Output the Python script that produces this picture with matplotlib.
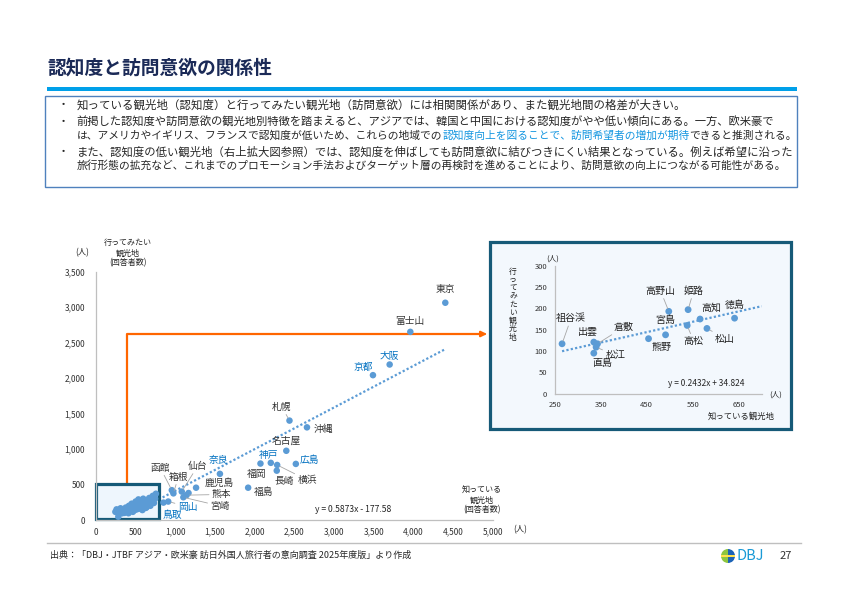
import matplotlib
matplotlib.use("Agg")
import matplotlib.pyplot as plt
from matplotlib.patches import Rectangle, FancyArrowPatch, Wedge
from matplotlib.path import Path
from matplotlib.ticker import FuncFormatter

plt.rcParams['font.family'] = ['Noto Sans CJK JP', 'DejaVu Sans']

# ---- data ----
title = "認知度と訪問意欲の関係性"

line1 = "知っている観光地（認知度）と行ってみたい観光地（訪問意欲）には相関関係があり、また観光地間の格差が大きい。"
line2 = "前掲した認知度や訪問意欲の観光地別特徴を踏まえると、アジアでは、韓国と中国における認知度がやや低い傾向にある。一方、欧米豪で"
line3a = "は、アメリカやイギリス、フランスで認知度が低いため、これらの地域での"
line3b = "認知度向上を図ることで、訪問希望者の増加が期待"
line3c = "できると推測される。"
line4 = "また、認知度の低い観光地（右上拡大図参照）では、認知度を伸ばしても訪問意欲に結びつきにくい結果となっている。例えば希望に沿った"
line5 = "旅行形態の拡充など、これまでのプロモーション手法およびターゲット層の再検討を進めることにより、訪問意欲の向上につながる可能性がある。"
source = "出典：「DBJ・JTBF アジア・欧米豪 訪日外国人旅行者の意向調査 2025年度版」より作成"

# labelled destinations on the main chart (known / want to visit, respondents)
main_names = ["東京", "富士山", "大阪", "京都", "札幌", "沖縄", "名古屋", "広島", "神戸", "福岡", "横浜",
              "長崎", "福島", "奈良", "鹿児島", "仙台", "箱根", "函館", "熊本", "宮崎", "岡山", "鳥取"]
main_known = [4400, 3960, 3700, 3490, 2440, 2660, 2400, 2520, 2205, 2075, 2285,
              2280, 1920, 1565, 1265, 1085, 980, 960, 1145, 1105, 915, 855]
main_want = [3060, 2650, 2190, 2040, 1400, 1305, 975, 790, 805, 795, 775,
             695, 455, 650, 455, 400, 375, 420, 350, 320, 260, 245]
main_blue = ["大阪", "京都", "広島", "神戸", "奈良", "岡山", "鳥取"]

# unlabelled low-awareness cluster
other_known = [250, 265, 280, 300, 315, 345, 365, 380, 400, 415, 420, 440, 455, 470, 490, 505, 520, 535, 540,
               560, 575, 590, 600, 615, 630, 645, 660, 675, 690, 705, 720, 735, 750, 760, 287, 1170,
               330, 430, 480, 550, 620, 700, 740]
other_want = [115, 150, 100, 135, 165, 145, 100, 175, 130, 95, 200, 160, 230, 115, 190, 260, 150, 220, 290,
              175, 250, 140, 300, 210, 170, 275, 230, 310, 200, 270, 340, 240, 300, 370, 46, 380,
              120, 125, 150, 200, 250, 240, 330]

# zoomed panel
inset_names = ["祖谷渓", "出雲", "倉敷", "松江", "直島", "熊野", "宮島", "高野山", "姫路", "高松", "高知", "松山", "徳島"]
inset_known = [266, 335, 343, 340, 335, 454, 491, 498, 540, 538, 566, 581, 641]
inset_want = [117, 121, 117, 109, 95, 129, 138, 193, 197, 160, 175, 153, 177]

main_fit = (0.5873, -177.58)
inset_fit = (0.2432, 34.824)
main_eq = "y = 0.5873x - 177.58"
inset_eq = "y = 0.2432x + 34.824"

# label offsets in points: (dx, dy, leader line)
main_offsets = {
    "東京": (0, 9.6, False), "富士山": (0, 7.9, False), "大阪": (0, 6, False), "京都": (-7, 6, False),
    "札幌": (-5.5, 10, True), "沖縄": (12, -1.4, False), "名古屋": (0, 7, False), "広島": (10, 2.9, False),
    "神戸": (-1.7, 5.5, False), "福岡": (-3.1, -7.8, False), "横浜": (21.6, -10.8, True), "長崎": (5.3, -7.6, False),
    "福島": (11, -2.9, False), "奈良": (-1.2, 10, False), "鹿児島": (17, 3.6, False), "仙台": (11.5, 18.5, True),
    "箱根": (3.6, 12, True), "函館": (-8.4, 16.3, True), "熊本": (25.2, 0.5, True), "宮崎": (26.4, -6.3, True),
    "岡山": (13.8, -3.6, True), "鳥取": (6.5, -8.6, False),
}
inset_offsets = {
    "祖谷渓": (6.5, 18.4, True), "出雲": (-4.1, 7.4, False), "倉敷": (19.1, 12.1, True), "松江": (13.8, -5.7, True),
    "直島": (6.5, -6.8, False), "熊野": (9.4, -6.3, False), "宮島": (0, 10.8, False), "高野山": (-5.9, 14.8, True),
    "姫路": (4, 13.6, True), "高知": (8.1, 8.3, False), "徳島": (0, 9.2, False), "高松": (4.7, -11.5, True),
    "松山": (13, -7.3, True),
}

DOT = '#5b9bd5'
GRID_GRAY = '#bfbfbf'
TXT = '#262626'
LBL = '#333333'
BLUE_LBL = '#0070c0'
TEAL = '#165a78'
ORANGE = '#ff6600'

W, H = 842, 596
fig = plt.figure(figsize=(W / 100, H / 100), dpi=100)

# page-level canvas in pixel units
bg = fig.add_axes([0, 0, 1, 1], zorder=0)
bg.set_xlim(0, W)
bg.set_ylim(H, 0)
bg.axis('off')

bg.text(47, 68, title, fontsize=13.5, fontweight='bold', color='#1b2a57', va='center', ha='left')
bg.add_patch(Rectangle((47, 86.7), 750, 4, facecolor='#00a0e9', edgecolor='none'))
bg.add_patch(Rectangle((45, 96), 752, 90.7, facecolor='none', edgecolor='#4f81bd', lw=1))

x_text = 76.7
rows = [
    (105.0, True, [(line1, TXT)], 685),
    (121.7, True, [(line2, TXT)], 778),
    (135.7, False, [(line3a, TXT), (line3b, '#1496e0'), (line3c, TXT)], 797),
    (151.7, True, [(line4, TXT)], 791),
    (166.0, False, [(line5, TXT)], 783),
]
for y, bullet, segs, x_end in rows:
    n = sum(len(s) for s, _ in segs)
    size = (x_end - x_text) / n * 0.72
    if bullet:
        bg.text(63, y, "・", fontsize=8, color=TXT, va='center', ha='center')
    prev = None
    for s, col in segs:
        if prev is None:
            prev = bg.text(x_text, y, s, fontsize=size, color=col, va='center', ha='left')
        else:
            prev = bg.annotate(s, xy=(1, 0.5), xycoords=prev, fontsize=size, color=col,
                               va='center', ha='left')

# footer
bg.plot([47, 801], [543.3, 543.3], color=GRID_GRAY, lw=1)
bg.text(50, 555, source, fontsize=6.5, color=TXT, va='center', ha='left')
bg.add_patch(Wedge((728, 556), 7, 90, 270, facecolor='#8dc63f', edgecolor='none'))
bg.add_patch(Wedge((728, 556), 7, -90, 90, facecolor='#1c63b7', edgecolor='none'))
bg.add_patch(Rectangle((721, 554.8), 14, 2.2, facecolor='#ffe14d', edgecolor='none'))
bg.text(737, 556, "DBJ", fontsize=10.5, color='#1a9ad6', va='center', ha='left')
bg.text(786, 556, "27", fontsize=8, color=LBL, va='center', ha='center')

# zoom panel frame and orange connector
bg.add_patch(Rectangle((489.5, 241.5), 301.5, 187.5, facecolor='#f3f8fd', edgecolor=TEAL, lw=2.3))
conn = Path([(126.7, 483), (126.7, 334), (487, 334)], [Path.MOVETO, Path.LINETO, Path.LINETO])
bg.add_patch(FancyArrowPatch(path=conn, arrowstyle='-|>', mutation_scale=8, color=ORANGE, lw=1.6,
                             shrinkA=0, shrinkB=0))

# ---- main scatter ----
ax = fig.add_axes([95.5 / W, 1 - 520 / H, (493 - 95.5) / W, (520 - 271.5) / H], zorder=1)
ax.patch.set_visible(False)
ax.set_xlim(0, 5000)
ax.set_ylim(0, 3500)
ax.set_xticks(range(0, 5001, 500))
ax.set_yticks(range(0, 3501, 500))
fmt = FuncFormatter(lambda v, p: f"{int(v):,}")
ax.xaxis.set_major_formatter(fmt)
ax.yaxis.set_major_formatter(fmt)
ax.tick_params(axis='both', length=0, labelsize=6, labelcolor=LBL)
ax.tick_params(axis='x', pad=5.5)
ax.tick_params(axis='y', pad=7.5)
for s in ['top', 'right']:
    ax.spines[s].set_visible(False)
for s in ['left', 'bottom']:
    ax.spines[s].set_color(GRID_GRAY)
    ax.spines[s].set_linewidth(0.9)

all_known = main_known + inset_known + other_known
all_want = main_want + inset_want + other_want
fx = [min(all_known), max(all_known)]
ax.plot(fx, [main_fit[0] * v + main_fit[1] for v in fx], color=DOT, lw=1.6,
        linestyle=(0, (1, 1)), zorder=1.5)
ax.add_patch(Rectangle((10, 20), 785, 485, facecolor='#eef6fd', edgecolor=TEAL, lw=2.3,
                       zorder=2, clip_on=False))
ax.scatter(all_known, all_want, s=22, color=DOT, edgecolors='none', zorder=3, clip_on=False)

for name, kx, wy in zip(main_names, main_known, main_want):
    dx, dy, leader = main_offsets[name]
    col = BLUE_LBL if name in main_blue else LBL
    ap = dict(arrowstyle='-', color='#a6a6a6', lw=0.6, shrinkA=0, shrinkB=2) if leader else None
    ax.annotate(name, xy=(kx, wy), xytext=(dx, dy), textcoords='offset points', fontsize=7,
                color=col, ha='center', va='center', arrowprops=ap, zorder=4)

bg.text(315, 509, main_eq, fontsize=6.2, color=TXT, va='center', ha='left')
bg.text(82, 253, "(人)", fontsize=6, color=TXT, va='center', ha='center')
bg.text(128, 253, "行ってみたい\n観光地\n(回答者数)", fontsize=5.8, color=TXT, va='center', ha='center',
        linespacing=1.15)
bg.text(520, 530, "(人)", fontsize=6, color=TXT, va='center', ha='center')
bg.text(482, 500, "知っている\n観光地\n(回答者数)", fontsize=5.8, color=TXT, va='center', ha='center',
        linespacing=1.15)

# ---- zoomed panel ----
ix = fig.add_axes([554.7 / W, 1 - 393.7 / H, (761.7 - 554.7) / W, 128 / H], zorder=2)
ix.patch.set_visible(False)
ix.set_xlim(250, 700)
ix.set_ylim(0, 300)
ix.set_xticks(range(250, 651, 100))
ix.set_yticks(range(0, 301, 50))
ix.tick_params(axis='both', length=0, labelsize=5.5, labelcolor=LBL)
ix.tick_params(axis='x', pad=5)
ix.tick_params(axis='y', pad=5.5)
for s in ['top', 'right']:
    ix.spines[s].set_visible(False)
for s in ['left', 'bottom']:
    ix.spines[s].set_color(GRID_GRAY)
    ix.spines[s].set_linewidth(0.9)

ifx = [min(inset_known), 700]
ix.plot(ifx, [inset_fit[0] * v + inset_fit[1] for v in ifx], color=DOT, lw=1.6,
        linestyle=(0, (1, 1)), zorder=1)
ix.scatter(inset_known, inset_want, s=24, color=DOT, edgecolors='none', zorder=3)
for name, kx, wy in zip(inset_names, inset_known, inset_want):
    dx, dy, leader = inset_offsets[name]
    ap = dict(arrowstyle='-', color='#a6a6a6', lw=0.6, shrinkA=0, shrinkB=2) if leader else None
    ix.annotate(name, xy=(kx, wy), xytext=(dx, dy), textcoords='offset points', fontsize=7.2,
                color='#222222', ha='center', va='center', arrowprops=ap, zorder=4)

bg.text(706, 383.7, inset_eq, fontsize=6, color=TXT, va='center', ha='center')
bg.text(553, 258.7, "(人)", fontsize=5.5, color=TXT, va='center', ha='center')
bg.text(776, 394.7, "(人)", fontsize=5.5, color=TXT, va='center', ha='center')
vlabel = "行ってみたい観光地"
for i, ch in enumerate(vlabel):
    bg.text(513, 272 + i * 8.2, ch, fontsize=5.6, color=TXT, va='center', ha='center')
bg.text(741, 416, "知っている観光地", fontsize=6, color=TXT, va='center', ha='center')

fig.savefig("out.png", dpi=100)
